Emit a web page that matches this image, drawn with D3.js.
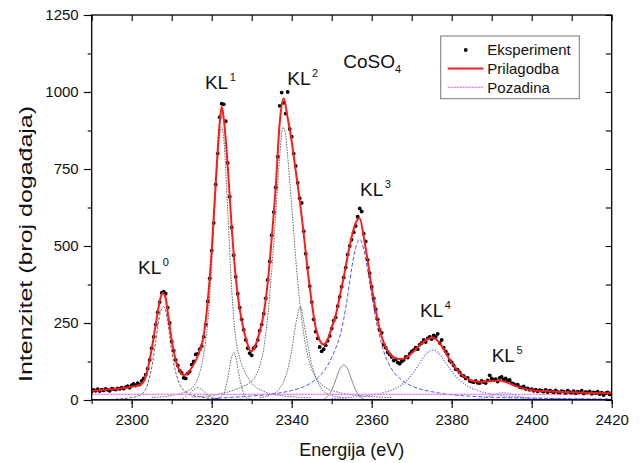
<!DOCTYPE html>
<html><head><meta charset="utf-8">
<script src="https://cdn.jsdelivr.net/npm/d3@7"></script>
<style>body{margin:0;background:#fff}svg{display:block}text{font-family:"Liberation Sans",Arial,sans-serif;fill:#111}</style>
</head><body><svg id="c" width="641" height="463"></svg>
<script>
// ---- Data ----
const xTicks = [2300, 2320, 2340, 2360, 2380, 2400, 2420];
const yTicks = [0, 250, 500, 750, 1000, 1250];

// Experiment: counts every 0.5 eV from 2290 to 2420
const expStart = 2290, expStep = 0.5;
const expV = [
 28,33,30,35,29,34,31,36,33,30,
 37,35,34,38,36,40,37,42,45,40,
 48,52,47,55,50,62,70,82,102,130,
 168,205,245,285,318,348,352,345,300,250,
 190,160,130,112,95,88,72,70,86,92,
 115,125,148,150,165,175,205,245,320,395,
 485,575,700,800,918,962,960,905,770,660,
 560,470,400,345,300,262,228,195,168,152,
 145,168,175,195,225,245,280,330,390,450,
 535,610,690,790,955,998,965,930,1000,880,
 855,800,760,705,655,640,548,475,430,370,
 318,262,222,200,172,158,165,178,192,208,
 232,258,268,305,335,368,398,430,472,500,
 520,545,565,595,622,612,540,515,455,412,
 368,330,295,262,228,218,180,170,155,148,
 140,128,132,122,118,125,130,140,138,150,
 158,162,170,165,180,185,195,188,200,205,
 198,210,205,215,185,195,170,158,148,128,
 122,112,100,98,90,80,78,70,72,62,
 60,58,62,56,55,62,58,55,64,80,
 70,65,68,60,72,75,66,70,62,65,
 55,52,48,50,42,40,44,36,38,33,
 35,30,34,28,32,30,27,33,26,30,
 28,25,31,26,24,29,27,23,30,26,
 24,29,22,27,25,30,21,26,24,28,
 20,25,23,27,19,24,16,22,25,18,
 23];

// Fit (Prilagodba)
const fitE = [2290,2292,2294,2296,2298,2300,2301,2302,2303,2304,2305,2306,2307,2307.7,2308.5,2309,2310,2311,2312,2313,2314,2315,2316,2317,2318,2319,2320,2321,2322,2322.5,2323,2324,2325,2326,2327,2328,2329,2329.8,2331,2332,2333,2334,2335,2336,2337,2338,2339,2340,2341,2342,2343,2344,2345,2346,2347,2348,2349,2350,2351,2352,2353,2354,2355,2356,2357,2358,2359,2360,2361,2362,2363,2364,2365,2366,2367,2368,2369,2370,2372,2374,2375.3,2376.5,2378,2380,2382,2384,2386,2388,2390,2392,2394,2396,2398,2400,2403,2406,2410,2415,2420];
const fitV = [30,32,34,36,39,43,45,49,60,100,165,245,320,348,330,285,195,128,94,81,87,105,128,160,210,320,485,705,900,952,915,760,560,400,295,228,180,158,180,222,280,380,525,690,900,980,915,840,745,650,540,420,318,235,194,180,197,235,275,335,398,468,530,575,590,530,452,365,292,230,186,160,143,136,133,134,141,152,178,198,202,192,165,120,88,68,60,59,62,63,56,45,37,32,29,27,25,23,22];

// Background (Pozadina)
const bgE = [2290, 2420];
const bgV = [18, 18];
// Zero line
const zeroE = [2290, 2420];
const zeroV = [0, 0];

// Fitted components
const c0E = [2296,2300,2302,2303,2304,2305,2306,2307,2308,2309,2310,2311,2312,2314,2317,2322];
const c0V = [3,8,15,25,52,105,190,275,303,255,160,90,52,22,10,4];
const c0bE = [2312,2313.5,2315,2316,2316.6,2317.2,2318.5,2320,2322];
const c0bV = [2,10,28,38,40,37,22,8,2];
const c1E = [2305,2310,2314,2316,2318,2319,2320,2321,2322,2322.5,2323,2324,2325,2326,2327,2328,2330,2333,2337,2345];
const c1V = [8,15,30,55,150,250,440,680,860,885,850,617,360,200,137,100,55,28,15,7];
const c1bE = [2321,2323,2324,2325,2325.5,2326,2327,2328,2329,2331];
const c1bV = [3,20,70,140,155,140,70,20,5,1];
const c2E = [2315,2320,2325,2328,2330,2332,2333,2334,2335,2336,2337,2337.8,2338.5,2339,2340,2341,2342,2343,2344,2345,2346,2348,2352,2358,2365];
const c2V = [10,15,30,45,62,110,165,270,420,600,790,885,860,790,630,460,320,215,145,100,72,45,24,13,8];
const c2bE = [2332,2335,2337,2338,2339,2340,2341,2342.2,2343,2344,2345,2346,2348,2350,2354];
const c2bV = [8,18,38,60,100,160,245,303,255,180,115,75,28,15,6];
const c3bE = [2348,2349,2350,2351,2352,2353,2354,2355,2356,2357,2358];
const c3bV = [3,12,32,65,100,114,100,65,32,12,3];
const kl3E = [2320,2330,2335,2340,2343,2345,2347,2349,2350,2351,2352,2353,2354,2355,2356,2357,2358,2359,2360,2361,2362,2363,2364,2365,2367,2369,2372,2375,2380,2385,2390,2400,2410,2420];
const kl3V = [5,13,19,31,43,57,78,112,138,168,205,262,340,428,495,522,490,420,340,265,205,158,125,100,70,52,36,27,17,12,9,6,4,3];
const kl4E = [2350,2355,2360,2363,2365,2367,2368,2369,2370,2371,2372,2373,2374,2375.3,2376.5,2377.5,2378.5,2379.5,2380.5,2382,2384,2386,2390,2395,2400,2410,2420];
const kl4V = [5,9,16,24,32,45,55,67,82,100,120,140,155,162,155,140,122,103,86,64,45,33,19,11,7,4,2];
const kl5E = [2384,2387,2389,2391,2393,2395,2397,2399,2402];
const kl5V = [1,3,10,19,24,19,10,3,1];

// Peak labels: name, superscript, anchor energy, anchor intensity
const peakNames = ["KL","KL","KL","KL","KL","KL"];
const peakSups  = ["0","1","2","3","4","5"];
const peakE     = [2301.6, 2318.3, 2338.9, 2357.1, 2372.1, 2390.0];
const peakV     = [409, 1009, 1023, 663, 270, 124];

const legendNames = ["Eksperiment", "Prilagodba", "Pozadina"];

// ---- Drawing ----
const W = 641, H = 463;
const L = 91.7, R = 611.7, T = 15, B = 400;
const svg = d3.select("#c");
const x = d3.scaleLinear().domain([2290, 2420]).range([L, R]);
const y = d3.scaleLinear().domain([0, 1250]).range([B, T]);

svg.append("defs").append("clipPath").attr("id","clip")
  .append("rect").attr("x",L).attr("y",T).attr("width",R-L).attr("height",B-T);

const plot = svg.append("g").attr("clip-path","url(#clip)");
const zip = (E,V) => E.map((e,i)=>[e,V[i]]);
const line = d3.line().x(d=>x(d[0])).y(d=>y(d[1])).curve(d3.curveMonotoneX);
function draw(E, V, color, width, dash){
  plot.append("path").datum(zip(E,V))
    .attr("d", line).attr("fill","none")
    .attr("stroke", color).attr("stroke-width", width)
    .attr("stroke-dasharray", dash || null);
}

// components
const gray = "#555";
draw(c0E, c0V, gray, 0.9, "3,1.5");
draw(c0bE, c0bV, gray, 0.9, "1.5,1.5");
draw(c1E, c1V, gray, 0.9, "1.5,1.2");
draw(c1bE, c1bV, gray, 0.9, "1.5,1.2");
draw(c2E, c2V, gray, 0.9, "1.5,1.2");
draw(c2bE, c2bV, gray, 0.9, "1.5,1.2");
draw(c3bE, c3bV, "#777", 0.9, null);
draw(kl3E, kl3V, "#4a5cf0", 1, "4,2");
draw(kl4E, kl4V, "#6a6cf5", 1.2, "1.2,1.5");
draw(kl5E, kl5V, "#6a6cf5", 1.2, "1.2,1.5");
draw(bgE, bgV, "#ff66ff", 1.2, "2,1");
draw(zeroE, zeroV, "#1c1c8a", 2.2, null);

// experiment points
const expData = expV.map((v,i)=>[expStart + i*expStep, v]);
plot.append("g").selectAll("circle").data(expData).join("circle")
  .attr("cx", d=>x(d[0])).attr("cy", d=>y(d[1])).attr("r", 1.9).attr("fill","#000");

// fit
draw(fitE, fitV, "#ff1a1a", 2, null);

// axes
const fs = 15;
function styleAxis(g){ g.select(".domain").remove(); g.selectAll("line").attr("stroke","#000").attr("stroke-width",1.1); g.selectAll("text").attr("font-size",fs).attr("fill","#111").attr("font-family",'"Liberation Sans",Arial,sans-serif'); }
const xMinor = d3.range(2290, 2421, 10);
const yMinor = d3.range(0, 1251, 125);
svg.append("g").attr("transform",`translate(0,${B})`)
  .call(d3.axisBottom(x).tickValues(xMinor).tickSize(4).tickFormat("")).call(styleAxis);
svg.append("g").attr("transform",`translate(0,${B})`)
  .call(d3.axisBottom(x).tickValues(xTicks).tickSize(8).tickPadding(6).tickFormat(d3.format("d"))).call(styleAxis);
svg.append("g").attr("transform",`translate(${L},0)`)
  .call(d3.axisLeft(y).tickValues(yMinor).tickSize(4).tickFormat("")).call(styleAxis);
svg.append("g").attr("transform",`translate(${L},0)`)
  .call(d3.axisLeft(y).tickValues(yTicks).tickSize(8).tickPadding(5).tickFormat(d3.format("d"))).call(styleAxis);
// mirrored (inward) ticks
svg.append("g").attr("transform",`translate(0,${T})`)
  .call(d3.axisBottom(x).tickValues(xMinor).tickSize(6).tickFormat("")).call(styleAxis);
svg.append("g").attr("transform",`translate(${R},0)`)
  .call(d3.axisLeft(y).tickValues(yMinor).tickSize(6).tickFormat("")).call(styleAxis);

// frame
svg.append("rect").attr("x",L).attr("y",T).attr("width",R-L).attr("height",B-T)
  .attr("fill","none").attr("stroke","#000").attr("stroke-width",1.3);

// axis titles
svg.append("text").attr("x",(L+R)/2).attr("y",455.5).attr("text-anchor","middle")
  .attr("font-size",18).text("Energija (eV)");
svg.append("text").attr("transform","translate(32,244) rotate(-90)").attr("text-anchor","middle")
  .attr("font-size",18).attr("textLength",276).attr("lengthAdjust","spacingAndGlyphs")
  .text("Intenzitet (broj događaja)");

// peak labels
peakNames.forEach((n,i)=>{
  const t = svg.append("text").attr("x", x(peakE[i])).attr("y", y(peakV[i])).attr("font-size",19);
  t.append("tspan").text(n);
  t.append("tspan").attr("dx",1.5).attr("dy",-8).attr("font-size",11).text(peakSups[i]);
});
// compound
{
  const t = svg.append("text").attr("x", x(2352.9)).attr("y", y(1077)).attr("font-size",19);
  t.append("tspan").text("CoSO");
  t.append("tspan").attr("dy",5).attr("font-size",11).text("4");
}

// legend
const lg = svg.append("g");
lg.append("rect").attr("x",440.7).attr("y",36).attr("width",138.6).attr("height",62.7)
  .attr("fill","#fff").attr("stroke","#777").attr("stroke-width",1);
const ly = [50, 68.5, 87.3];
lg.append("circle").attr("cx",465.7).attr("cy",ly[0]).attr("r",1.9).attr("fill","#000");
lg.append("line").attr("x1",447.7).attr("x2",483.3).attr("y1",ly[1]).attr("y2",ly[1])
  .attr("stroke","#ff1a1a").attr("stroke-width",2);
lg.append("line").attr("x1",447.7).attr("x2",483.3).attr("y1",ly[2]).attr("y2",ly[2])
  .attr("stroke","#ff66ff").attr("stroke-width",1.2).attr("stroke-dasharray","2,1");
legendNames.forEach((n,i)=>{
  lg.append("text").attr("x",487.3).attr("y",ly[i]).attr("dy","0.36em").attr("font-size",15).text(n);
});
</script>
</body></html>
